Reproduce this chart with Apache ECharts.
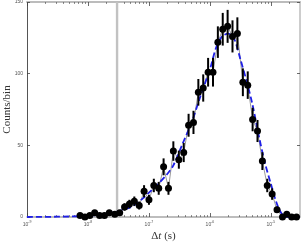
<!DOCTYPE html>
<html><head><meta charset="utf-8">
<script src="https://cdn.jsdelivr.net/npm/echarts@6/dist/echarts.min.js"></script>
<style>html,body{margin:0;padding:0;background:#fff}#c{width:302px;height:242px}</style>
</head><body><div id="c"></div>
<script>
// measured data (x as log10 of Δt in seconds)
const logDt = [-8.13,-8.05,-7.97,-7.89,-7.81,-7.73,-7.65,-7.56,-7.48,-7.40,-7.32,-7.24,-7.16,-7.08,-7.00,-6.92,-6.84,-6.76,-6.68,-6.60,-6.51,-6.43,-6.35,-6.27,-6.19,-6.11,-6.03,-5.95,-5.87,-5.79,-5.71,-5.63,-5.55,-5.46,-5.38,-5.30,-5.22,-5.14,-5.06,-4.98,-4.90,-4.81,-4.74,-4.66,-4.58];
const counts = [1,0,1,3,1,1,3,2,3,7,9,11,8,18,12,22,20,35,20,46,40,45,64,66,87,90,101,101,122,131,133,126,128,94,92,68,60,39,22,16,5,0,2,0,0];
const errs = [1,0,1,1.7,1,1,1.7,1.4,1.7,2.6,3,3.3,2.8,4.2,3.5,4.7,4.5,5.9,4.5,6.8,6.3,6.7,8,8.1,9.3,9.5,10,10,11,11.4,11.5,11.2,11.3,9.7,9.6,8.2,7.7,6.2,4.7,4,2.2,0,1.4,0,0];
// fitted curve (dashed blue)
const fitLogDt = [-9.0,-8.5,-8.0,-7.75,-7.5,-7.25,-7.1,-7.0,-6.85,-6.7,-6.6,-6.45,-6.3,-6.15,-6.0,-5.9,-5.8,-5.7,-5.6,-5.5,-5.4,-5.3,-5.2,-5.1,-5.0,-4.9,-4.8,-4.7,-4.6,-4.523];
const fitCounts = [0,0.2,0.8,2,4,8,13,17,23,30,36,51,66,85,103,118,126,128,124,110,95,78,57,38,23,9,1,0,0,0];
// axes
const xMinExp = -9, xMaxExp = -4.523;
const xTickExps = [-9,-8,-7,-6,-5];
const yTicks = [0,50,100,150];
const thresholdLogDt = -7.523;
const thresholdSpan = [0, 150];

const minorVals = [];
for (const e of xTickExps) for (let k = 2; k <= 9; k++) { const v = e + Math.log10(k); if (v <= xMaxExp + 1e-6) minorVals.push(v); }

const pts = logDt.map((x, i) => [x, counts[i], errs[i]]);
const fit = fitLogDt.map((x, i) => [x, fitCounts[i]]);

const tickCol = '#444';
const baseX = { type: 'value', min: xMinExp, max: xMaxExp, interval: 1, splitLine: { show: false } };
const chart = echarts.init(document.getElementById('c'), null, { renderer: 'canvas' });
chart.setOption({
  animation: false,
  backgroundColor: '#fff',
  grid: { left: 27, right: 2, top: 2, bottom: 25, containLabel: false, outerBoundsMode: 'none' },
  xAxis: [
    Object.assign({}, baseX, {
      position: 'bottom',
      axisLine: { show: true, lineStyle: { color: '#a8a8a8', width: 1.5 } },
      axisTick: { show: true, inside: true, length: 4, lineStyle: { color: tickCol, width: 0.8 }, customValues: xTickExps },
      axisLabel: { show: true, margin: 3, customValues: xTickExps,
        formatter: v => '{b|10}{s|' + v + '}',
        rich: { b: { fontSize: 5, color: '#555', fontFamily: 'Liberation Sans', verticalAlign: 'bottom', lineHeight: 7 },
                s: { fontSize: 3.5, color: '#555', fontFamily: 'Liberation Sans', verticalAlign: 'top', lineHeight: 7 } } },
      name: '{n|Δ}{i|t}{n| (s)}', nameLocation: 'middle', nameGap: 14, nameMoveOverlap: false,
      nameTextStyle: { rich: { n: { fontFamily: 'Liberation Serif', fontSize: 11, color: '#333' },
                               i: { fontFamily: 'Liberation Serif', fontStyle: 'italic', fontSize: 11, color: '#333' } } }
    }),
    Object.assign({}, baseX, {
      position: 'bottom', axisLine: { show: false }, axisLabel: { show: false },
      axisTick: { show: true, inside: true, length: 2, lineStyle: { color: tickCol, width: 0.6 }, customValues: minorVals }
    }),
    Object.assign({}, baseX, {
      position: 'top', axisLine: { show: true, lineStyle: { color: '#bcbcbc', width: 2 } }, axisLabel: { show: false },
      axisTick: { show: true, inside: true, length: 4, lineStyle: { color: tickCol, width: 0.8 }, customValues: xTickExps }
    }),
    Object.assign({}, baseX, {
      position: 'top', axisLine: { show: false }, axisLabel: { show: false },
      axisTick: { show: true, inside: true, length: 2, lineStyle: { color: tickCol, width: 0.6 }, customValues: minorVals }
    })
  ],
  yAxis: [
    { type: 'value', min: 0, max: 150, interval: 50, position: 'left', splitLine: { show: false },
      axisLine: { show: true, lineStyle: { color: '#555', width: 1 } },
      axisTick: { show: true, inside: true, length: 3, lineStyle: { color: tickCol, width: 0.8 }, customValues: yTicks },
      axisLabel: { show: true, margin: 4, fontSize: 5, color: '#555', fontFamily: 'Liberation Sans', customValues: yTicks },
      name: 'Counts/bin', nameLocation: 'middle', nameGap: 14, nameMoveOverlap: false,
      nameTextStyle: { fontFamily: 'Liberation Serif', fontSize: 11, color: '#333' } },
    { type: 'value', min: 0, max: 150, interval: 50, position: 'right', splitLine: { show: false },
      axisLine: { show: true, lineStyle: { color: '#bcbcbc', width: 1.5 } },
      axisTick: { show: true, inside: true, length: 3, lineStyle: { color: tickCol, width: 0.8 }, customValues: yTicks },
      axisLabel: { show: false } }
  ],
  series: [
    { type: 'line', data: thresholdSpan.map(y => [thresholdLogDt, y]), showSymbol: false, silent: true,
      lineStyle: { color: '#c2c2c2', width: 2.4 }, z: 1 },
    { type: 'line', data: pts.map(p => [p[0], p[1]]), showSymbol: false,
      lineStyle: { color: '#9a9a9a', width: 1 }, z: 2 },
    { type: 'line', data: fit, showSymbol: false, smooth: 0.3, clip: true,
      lineStyle: { color: '#1f1fe6', width: 1.8, type: [6, 3] }, z: 3 },
    { type: 'custom', data: pts, z: 4,
      renderItem: (params, api) => {
        const x = api.value(0), y = api.value(1), e = api.value(2);
        const a = api.coord([x, y + e]), b = api.coord([x, Math.max(0, y - e)]);
        return { type: 'line', shape: { x1: a[0], y1: a[1], x2: b[0], y2: b[1] }, style: { stroke: '#000', lineWidth: 2 } };
      } },
    { type: 'scatter', data: pts.map(p => [p[0], p[1]]), symbol: 'circle', symbolSize: 7,
      itemStyle: { color: '#000', opacity: 1 }, z: 5 }
  ]
});
</script></body></html>
